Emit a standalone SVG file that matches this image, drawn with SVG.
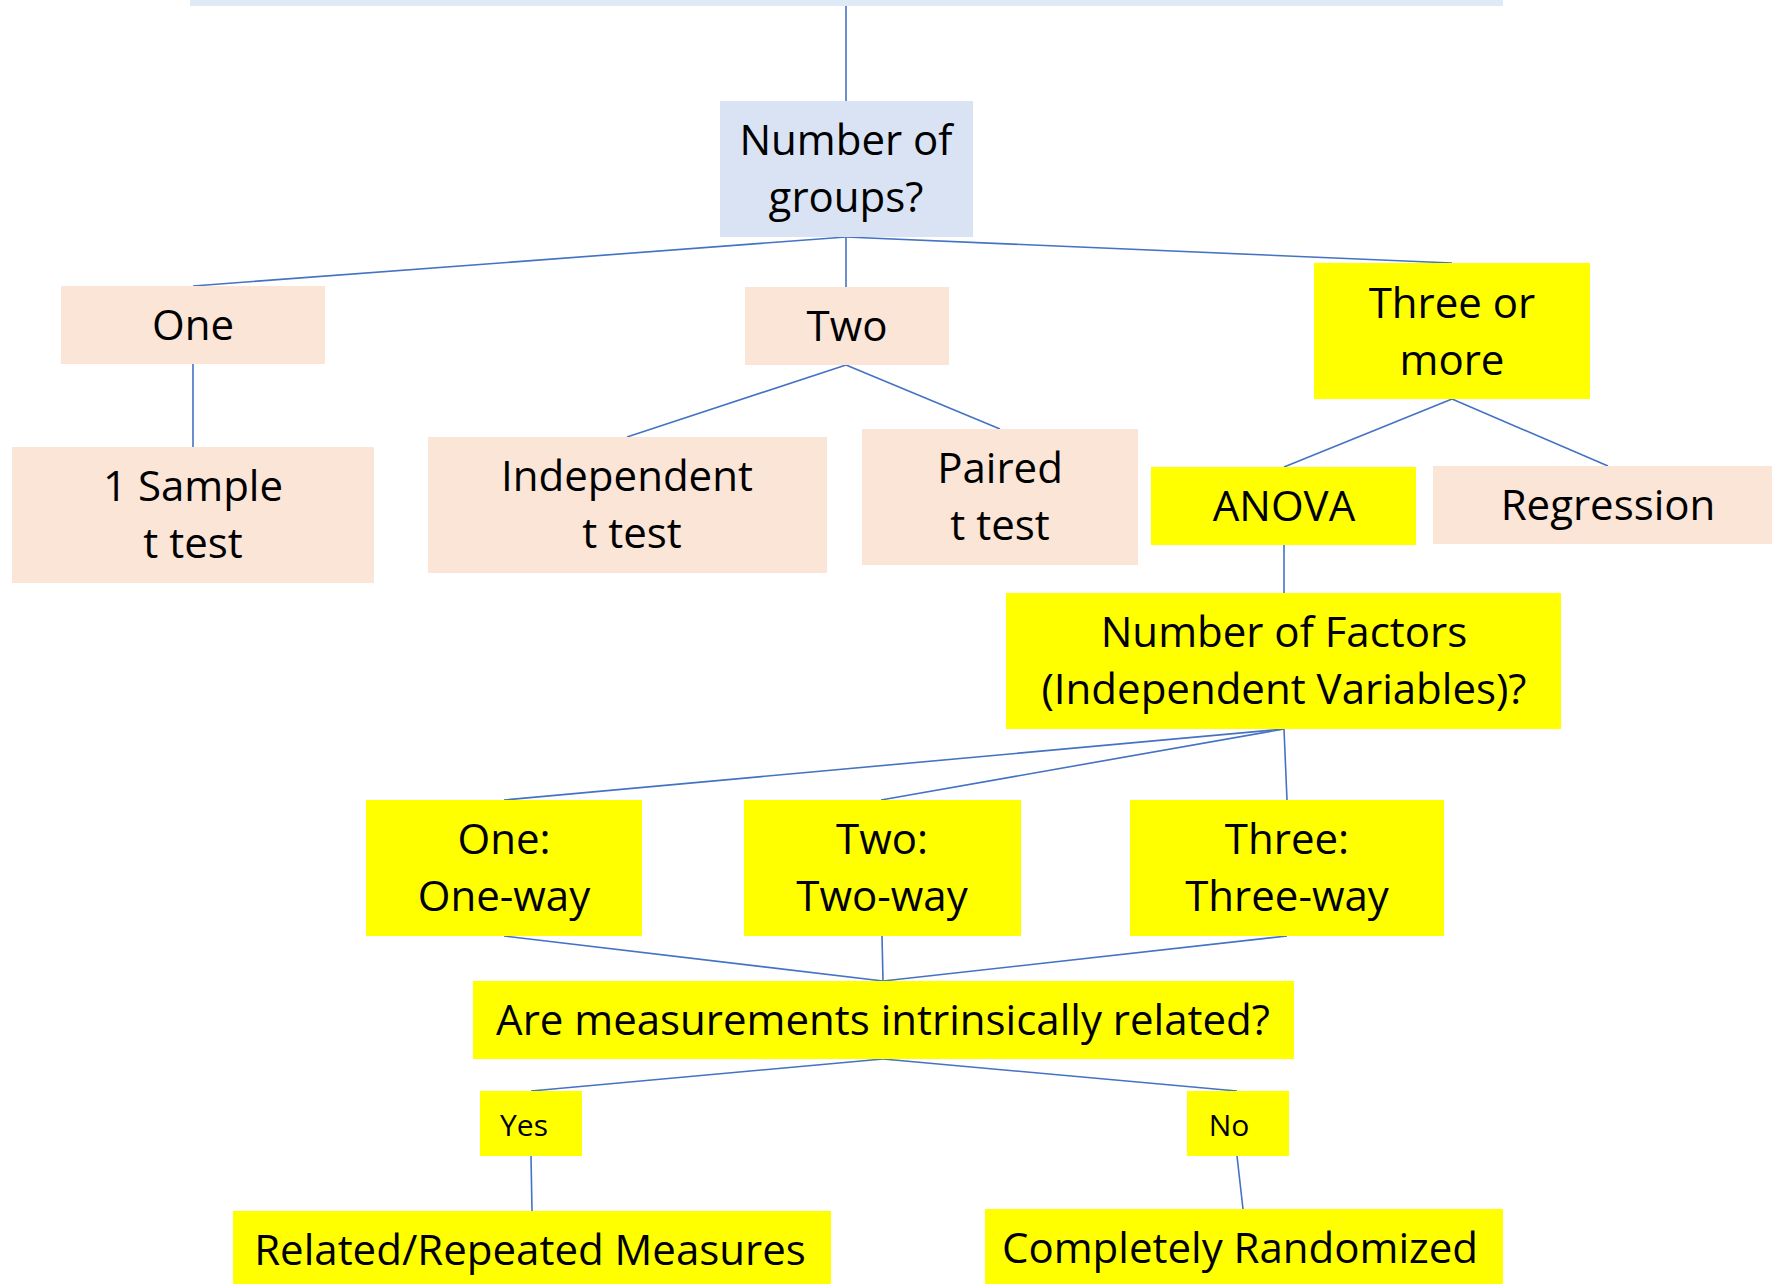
<svg xmlns="http://www.w3.org/2000/svg" width="1772" height="1284" viewBox="0 0 1772 1284">
  <style>
    .blue { fill: #DAE3F3; }
    .top { fill: #DEEAF6; }
    .peach { fill: #FBE5D6; }
    .yellow { fill: #FFFF00; }
    text { font-family: "Open Sans", "Noto Sans", sans-serif; font-size: 42px; fill: #000; text-anchor: middle; }
    text.small { font-size: 30px; }
    #connectors line { stroke: #4472C4; stroke-width: 1.6; fill: none; }
  </style>
  <rect width="1772" height="1284" fill="#FFFFFF"/>

  <g id="connectors">
    <line x1="846" y1="6" x2="846" y2="101"/>
    <line x1="846" y1="237" x2="193" y2="286"/>
    <line x1="846" y1="237" x2="846" y2="287"/>
    <line x1="846" y1="237" x2="1452" y2="263"/>
    <line x1="193" y1="364" x2="193" y2="447"/>
    <line x1="846" y1="365" x2="627" y2="437"/>
    <line x1="846" y1="365" x2="1000" y2="429"/>
    <line x1="1452" y1="399" x2="1284" y2="467"/>
    <line x1="1452" y1="399" x2="1608" y2="466"/>
    <line x1="1284" y1="545" x2="1284" y2="593"/>
    <line x1="1284" y1="729" x2="504" y2="800"/>
    <line x1="1284" y1="729" x2="881" y2="800"/>
    <line x1="1284" y1="729" x2="1287" y2="800"/>
    <line x1="504" y1="936" x2="883" y2="981"/>
    <line x1="882" y1="936" x2="883" y2="981"/>
    <line x1="1287" y1="936" x2="883" y2="981"/>
    <line x1="883" y1="1059" x2="531" y2="1091"/>
    <line x1="883" y1="1059" x2="1237" y2="1091"/>
    <line x1="531" y1="1156" x2="532" y2="1211"/>
    <line x1="1237" y1="1156" x2="1243" y2="1209"/>
  </g>

  <g id="top-box">
    <rect class="top" x="190" y="0" width="1313" height="6"/>
  </g>

  <g id="number-of-groups">
    <rect class="blue" x="720" y="101" width="253" height="136"/>
    <text x="846" y="155">Number of</text>
    <text x="846" y="212">groups?</text>
  </g>

  <g id="one">
    <rect class="peach" x="61" y="286" width="264" height="78"/>
    <text x="193" y="340">One</text>
  </g>

  <g id="two">
    <rect class="peach" x="745" y="287" width="204" height="78"/>
    <text x="847" y="341">Two</text>
  </g>

  <g id="three-or-more">
    <rect class="yellow" x="1314" y="263" width="276" height="136"/>
    <text x="1452" y="318">Three or</text>
    <text x="1452" y="375">more</text>
  </g>

  <g id="one-sample-t-test">
    <rect class="peach" x="12" y="447" width="362" height="136"/>
    <text x="193" y="501">1 Sample</text>
    <text x="193" y="558">t test</text>
  </g>

  <g id="independent-t-test">
    <rect class="peach" x="428" y="437" width="399" height="136"/>
    <text x="627" y="491">Independent</text>
    <text x="632" y="548">t test</text>
  </g>

  <g id="paired-t-test">
    <rect class="peach" x="862" y="429" width="276" height="136"/>
    <text x="1000" y="483">Paired</text>
    <text x="1000" y="540">t test</text>
  </g>

  <g id="anova">
    <rect class="yellow" x="1151" y="467" width="265" height="78"/>
    <text x="1284" y="521">ANOVA</text>
  </g>

  <g id="regression">
    <rect class="peach" x="1433" y="466" width="339" height="78"/>
    <text x="1608" y="520">Regression</text>
  </g>

  <g id="number-of-factors">
    <rect class="yellow" x="1006" y="593" width="555" height="136"/>
    <text x="1284" y="647">Number of Factors</text>
    <text x="1284" y="704">(Independent Variables)?</text>
  </g>

  <g id="one-way">
    <rect class="yellow" x="366" y="800" width="276" height="136"/>
    <text x="504" y="854">One:</text>
    <text x="504" y="911">One-way</text>
  </g>

  <g id="two-way">
    <rect class="yellow" x="744" y="800" width="277" height="136"/>
    <text x="882" y="854">Two:</text>
    <text x="882" y="911">Two-way</text>
  </g>

  <g id="three-way">
    <rect class="yellow" x="1130" y="800" width="314" height="136"/>
    <text x="1287" y="854">Three:</text>
    <text x="1287" y="911">Three-way</text>
  </g>

  <g id="related-question">
    <rect class="yellow" x="473" y="981" width="821" height="78"/>
    <text x="883" y="1035">Are measurements intrinsically related?</text>
  </g>

  <g id="yes">
    <rect class="yellow" x="480" y="1091" width="102" height="65"/>
    <text class="small" x="524" y="1136">Yes</text>
  </g>

  <g id="no">
    <rect class="yellow" x="1187" y="1091" width="102" height="65"/>
    <text class="small" x="1229" y="1136">No</text>
  </g>

  <g id="repeated-measures">
    <rect class="yellow" x="233" y="1211" width="598" height="73"/>
    <text x="530" y="1265">Related/Repeated Measures</text>
  </g>

  <g id="completely-randomized">
    <rect class="yellow" x="985" y="1209" width="518" height="75"/>
    <text x="1240" y="1263">Completely Randomized</text>
  </g>
</svg>
